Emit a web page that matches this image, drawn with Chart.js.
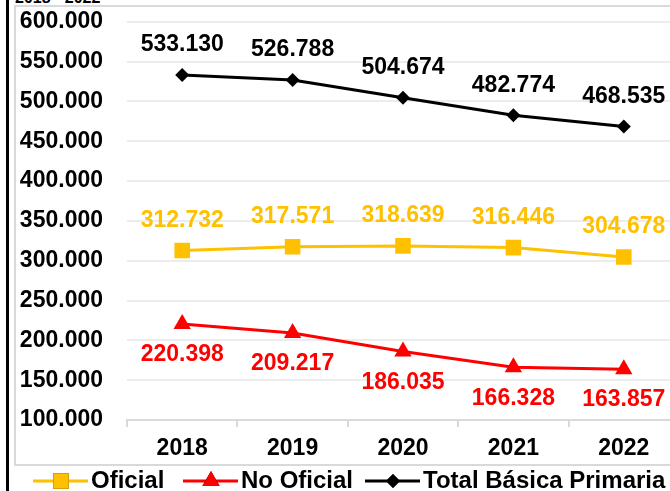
<!DOCTYPE html>
<html>
<head>
<meta charset="utf-8">
<script src="https://cdn.jsdelivr.net/npm/chart.js@4.4.1/dist/chart.umd.min.js"></script>
<style>
    html, body { margin: 0; padding: 0; background: #fff; overflow: hidden; width: 670px; height: 491px; }
    #frame-line { position: absolute; left: 6px; top: 0; width: 3px; height: 491px; background: #000; }
    #title { position: absolute; left: 15px; top: -10px; font: bold 16px "Liberation Sans", Arial, sans-serif; line-height: 16px; color: #000; }
    #box { position: absolute; left: 14px; top: 5px; width: 700px; height: 457px; border: 2px solid #d9d9d9; box-sizing: content-box; background: #fff; }
    #wrap { position: absolute; left: 0; top: -16px; width: 690px; height: 507px; }
</style>
</head>
<body>
<div id="frame-line"></div>
<div id="title">2018 - 2022</div>
<div id="box"></div>
<div id="wrap"><canvas id="chart"></canvas></div>
<script>
    const years = ["2018", "2019", "2020", "2021", "2022"];
    const oficial = [312732, 317571, 318639, 316446, 304678];
    const noOficial = [220398, 209217, 186035, 166328, 163857];
    const totalPrimaria = [533130, 526788, 504674, 482774, 468535];
    const yTicks = [100000, 150000, 200000, 250000, 300000, 350000, 400000, 450000, 500000, 550000, 600000];

    const FONT = '"Liberation Sans", Arial, sans-serif';

    function fmt(v) {
        return String(v).replace(/\B(?=(\d{3})+(?!\d))/g, ".");
    }

    // value labels next to every point
    const valueLabels = {
        id: "valueLabels",
        afterDatasetsDraw(chart) {
            const ctx = chart.ctx;
            ctx.save();
            ctx.font = "bold 23px " + FONT;
            ctx.textAlign = "center";
            ctx.textBaseline = "middle";
            chart.data.datasets.forEach((ds, i) => {
                const meta = chart.getDatasetMeta(i);
                meta.data.forEach((pt, j) => {
                    const dy = ds.labelBelow ? 31 : -30;
                    ctx.fillStyle = ds.borderColor;
                    ctx.fillText(fmt(ds.data[j]), pt.x, pt.y + dy);
                });
            });
            ctx.restore();
        }
    };

    // legend with line + marker, drawn at the bottom
    const lineLegend = {
        id: "lineLegend",
        afterDraw(chart) {
            const ctx = chart.ctx;
            const y = chart.height - 10;
            const starts = [33, 183, 365];
            ctx.save();
            ctx.font = "bold 24px " + FONT;
            ctx.textBaseline = "middle";
            chart.data.datasets.forEach((ds, i) => {
                const x0 = starts[i];
                ctx.strokeStyle = ds.borderColor;
                ctx.lineWidth = 3;
                ctx.beginPath();
                ctx.moveTo(x0, y);
                ctx.lineTo(x0 + 55, y);
                ctx.stroke();
                Chart.helpers.drawPoint(ctx, {
                    pointStyle: ds.pointStyle,
                    radius: ds.pointRadius,
                    borderWidth: 0
                }, x0 + 28, y);
                ctx.fillStyle = ds.borderColor;
                ctx.fill();
                ctx.fillStyle = "#000";
                ctx.fillText(ds.label, x0 + 58, y);
            });
            ctx.restore();
        }
    };

    const ctx = document.getElementById("chart").getContext("2d");
    new Chart(ctx, {
        type: "line",
        data: {
            labels: years,
            datasets: [
                {
                    label: "Oficial",
                    data: oficial,
                    borderColor: "#FFC000",
                    backgroundColor: "#FFC000",
                    borderWidth: 3,
                    pointStyle: "rect",
                    pointRadius: 11,
                    pointBorderWidth: 0,
                    tension: 0
                },
                {
                    label: "No Oficial",
                    data: noOficial,
                    borderColor: "#FF0000",
                    backgroundColor: "#FF0000",
                    borderWidth: 3,
                    pointStyle: "triangle",
                    pointRadius: 10,
                    pointBorderWidth: 0,
                    labelBelow: true,
                    tension: 0
                },
                {
                    label: "Total Básica Primaria",
                    data: totalPrimaria,
                    borderColor: "#000000",
                    backgroundColor: "#000000",
                    borderWidth: 3,
                    pointStyle: "rectRot",
                    pointRadius: 7,
                    pointBorderWidth: 0,
                    tension: 0
                }
            ]
        },
        options: {
            responsive: true,
            maintainAspectRatio: false,
            animation: false,
            layout: { padding: { top: 8, right: 9, bottom: 31, left: 0 } },
            plugins: {
                legend: { display: false },
                tooltip: { enabled: false }
            },
            scales: {
                x: {
                    offset: true,
                    afterFit: (scale) => { scale.height = 40; },
                    grid: {
                        offset: true,
                        drawOnChartArea: false,
                        tickLength: 7,
                        color: "#d9d9d9",
                        lineWidth: 2
                    },
                    border: { color: "#d9d9d9", width: 2 },
                    ticks: {
                        color: "#000",
                        padding: 8,
                        font: { family: FONT, size: 23, weight: "bold" }
                    }
                },
                y: {
                    min: 100000,
                    max: 600000,
                    afterFit: (scale) => { scale.width = 127; },
                    afterBuildTicks: (scale) => { scale.ticks = yTicks.map(v => ({ value: v })); },
                    grid: {
                        drawTicks: false,
                        color: (c) => c.tick && c.tick.value === 100000 ? "rgba(0,0,0,0)" : "#ececec",
                        lineWidth: 2
                    },
                    border: { display: false },
                    ticks: {
                        color: "#000",
                        padding: 24,
                        font: { family: FONT, size: 23, weight: "bold" },
                        callback: (v) => fmt(v)
                    }
                }
            }
        },
        plugins: [valueLabels, lineLegend]
    });
</script>
</body>
</html>
